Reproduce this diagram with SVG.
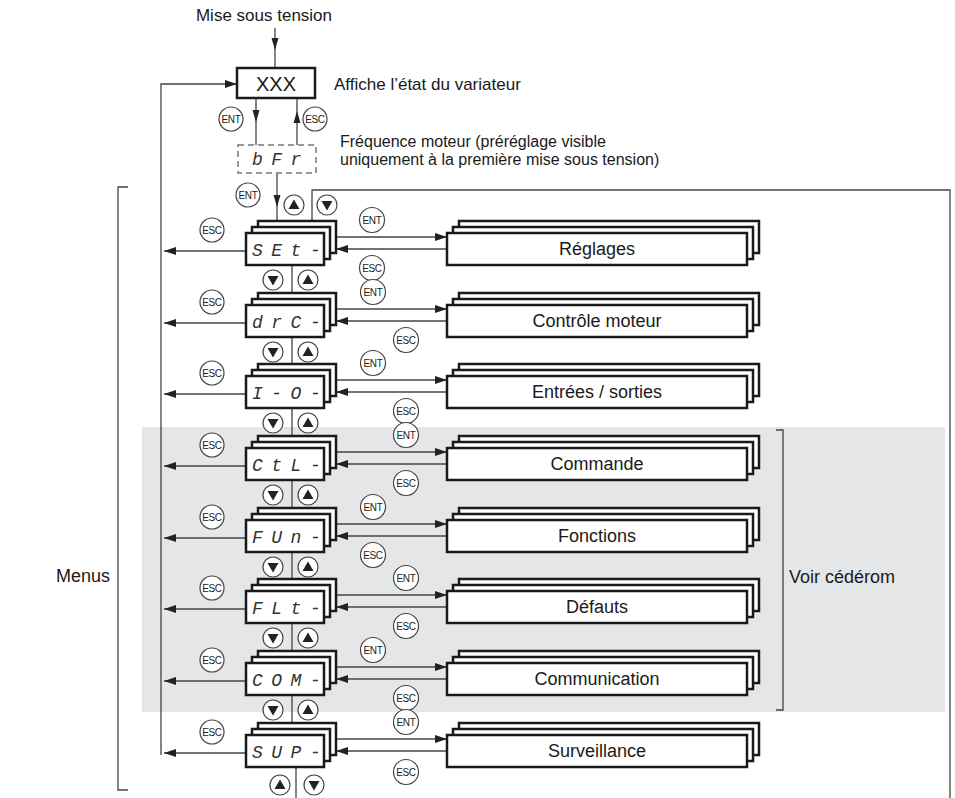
<svg xmlns="http://www.w3.org/2000/svg" xmlns:xlink="http://www.w3.org/1999/xlink" width="955" height="798" viewBox="0 0 955 798">
<style>
.t{font-family:"Liberation Sans",Arial,sans-serif;fill:#1a1a1a}
.lbl{font-size:18px;text-anchor:middle}
.ann{font-size:16px}
.box{fill:#fff;stroke:#1a1a1a;stroke-width:2.5}
.ln{fill:none;stroke:#444;stroke-width:1.3}
.cir{fill:#fff;stroke:#444;stroke-width:1.2}
.ct{font-family:"Liberation Sans",Arial,sans-serif;font-size:10px;letter-spacing:-0.4px;text-anchor:middle;fill:#222}
.seg{font-family:"Liberation Mono","Courier New",monospace;font-style:italic;font-size:18px;letter-spacing:8.5px;fill:#333}
.tri{fill:#222}
</style>
<defs>
<marker id="ah" viewBox="0 0 12 8" refX="12" refY="4" markerWidth="12" markerHeight="8" markerUnits="userSpaceOnUse" orient="auto"><path d="M0,0 L12,4 L0,8 z" fill="#222"/></marker>
<g id="up"><circle r="10" class="cir" stroke-width="1.4"/><path d="M0,-5.5 L5.5,4 L-5.5,4 z" class="tri"/></g>
<g id="dn"><circle r="10" class="cir" stroke-width="1.4"/><path d="M0,5.5 L5.5,-4 L-5.5,-4 z" class="tri"/></g>
</defs>
<rect id="zone-cd" x="142" y="427" width="803" height="285" fill="#e5e6e8"/>

<text class="t" x="264" y="21" font-size="17" text-anchor="middle">Mise sous tension</text>
<text class="t" x="334" y="90" font-size="17">Affiche l’état du variateur</text>
<text class="t ann" x="340" y="147">Fréquence moteur (préréglage visible</text>
<text class="t ann" x="340" y="165">uniquement à la première mise sous tension)</text>
<text class="t" x="56" y="582" font-size="18">Menus</text>
<text class="t" x="789" y="583" font-size="18">Voir cédérom</text>
<path class="ln" d="M128,187 H118 V790 H128" stroke="#666"/>
<path class="ln" d="M776,430 H783 V710 H776" stroke="#666"/>

<g id="connectors">
<line class="ln" x1="275" y1="28" x2="275" y2="67"/><path d="M271.5,38 L278.5,38 L275,50 z" class="tri"/>
<line class="ln" x1="256" y1="99" x2="256" y2="145"/><path d="M252.5,110 L259.5,110 L256,122 z" class="tri"/>
<line class="ln" x1="297" y1="145" x2="297" y2="99"/><path d="M293.5,123 L300.5,123 L297,111 z" class="tri"/>
<line class="ln" x1="277" y1="173" x2="277" y2="221"/><path d="M273.5,195 L280.5,195 L277,207 z" class="tri"/>
<path class="ln" d="M161,755 V84 H237" marker-end="url(#ah)"/>
<path class="ln" d="M312,221 V190 H950 V798" stroke="#666" stroke-width="1.6"/>
<path class="ln" d="M296,767 V798"/>
<g transform="translate(0,249)"><path class="ln" d="M336,-12 H447" marker-end="url(#ah)"/><path class="ln" d="M447,0 H336" marker-end="url(#ah)"/><path class="ln" d="M246,2 H164" marker-end="url(#ah)"/><path class="ln" d="M292,17 V44"/></g>
<g transform="translate(0,321)"><path class="ln" d="M336,-12 H447" marker-end="url(#ah)"/><path class="ln" d="M447,0 H336" marker-end="url(#ah)"/><path class="ln" d="M246,2 H164" marker-end="url(#ah)"/><path class="ln" d="M292,17 V43"/></g>
<g transform="translate(0,392)"><path class="ln" d="M336,-12 H447" marker-end="url(#ah)"/><path class="ln" d="M447,0 H336" marker-end="url(#ah)"/><path class="ln" d="M246,2 H164" marker-end="url(#ah)"/><path class="ln" d="M292,17 V44"/></g>
<g transform="translate(0,464)"><path class="ln" d="M336,-12 H447" marker-end="url(#ah)"/><path class="ln" d="M447,0 H336" marker-end="url(#ah)"/><path class="ln" d="M246,2 H164" marker-end="url(#ah)"/><path class="ln" d="M292,17 V44"/></g>
<g transform="translate(0,536)"><path class="ln" d="M336,-12 H447" marker-end="url(#ah)"/><path class="ln" d="M447,0 H336" marker-end="url(#ah)"/><path class="ln" d="M246,2 H164" marker-end="url(#ah)"/><path class="ln" d="M292,17 V43"/></g>
<g transform="translate(0,607)"><path class="ln" d="M336,-12 H447" marker-end="url(#ah)"/><path class="ln" d="M447,0 H336" marker-end="url(#ah)"/><path class="ln" d="M246,2 H164" marker-end="url(#ah)"/><path class="ln" d="M292,17 V44"/></g>
<g transform="translate(0,679)"><path class="ln" d="M336,-12 H447" marker-end="url(#ah)"/><path class="ln" d="M447,0 H336" marker-end="url(#ah)"/><path class="ln" d="M246,2 H164" marker-end="url(#ah)"/><path class="ln" d="M292,17 V44"/></g>
<g transform="translate(0,751)"><path class="ln" d="M336,-12 H447" marker-end="url(#ah)"/><path class="ln" d="M447,0 H336" marker-end="url(#ah)"/><path class="ln" d="M246,2 H164" marker-end="url(#ah)"/></g>
</g>

<g id="keys">
<circle class="cir" cx="231" cy="119" r="12"/><text class="ct" x="231" y="122.5">ENT</text>
<circle class="cir" cx="315" cy="119" r="12"/><text class="ct" x="315" y="122.5">ESC</text>
<circle class="cir" cx="248" cy="195" r="12"/><text class="ct" x="248" y="198.5">ENT</text>
<use xlink:href="#up" x="294" y="205"/><use xlink:href="#dn" x="327" y="205"/>
<circle class="cir" cx="212" cy="230" r="12"/><text class="ct" x="212" y="233.5">ESC</text>
<circle class="cir" cx="212" cy="302" r="12"/><text class="ct" x="212" y="305.5">ESC</text>
<circle class="cir" cx="212" cy="373" r="12"/><text class="ct" x="212" y="376.5">ESC</text>
<circle class="cir" cx="212" cy="445" r="12"/><text class="ct" x="212" y="448.5">ESC</text>
<circle class="cir" cx="212" cy="517" r="12"/><text class="ct" x="212" y="520.5">ESC</text>
<circle class="cir" cx="212" cy="588" r="12"/><text class="ct" x="212" y="591.5">ESC</text>
<circle class="cir" cx="212" cy="660" r="12"/><text class="ct" x="212" y="663.5">ESC</text>
<circle class="cir" cx="212" cy="732" r="12"/><text class="ct" x="212" y="735.5">ESC</text>
<circle class="cir" cx="372" cy="220" r="12.5"/><text class="ct" x="372" y="223.5">ENT</text>
<circle class="cir" cx="372" cy="268" r="12.5"/><text class="ct" x="372" y="271.5">ESC</text>
<circle class="cir" cx="373" cy="292" r="12.5"/><text class="ct" x="373" y="295.5">ENT</text>
<circle class="cir" cx="406" cy="340" r="12.5"/><text class="ct" x="406" y="343.5">ESC</text>
<circle class="cir" cx="373" cy="363" r="12.5"/><text class="ct" x="373" y="366.5">ENT</text>
<circle class="cir" cx="406" cy="411" r="12.5"/><text class="ct" x="406" y="414.5">ESC</text>
<circle class="cir" cx="406" cy="435" r="12.5"/><text class="ct" x="406" y="438.5">ENT</text>
<circle class="cir" cx="406" cy="483" r="12.5"/><text class="ct" x="406" y="486.5">ESC</text>
<circle class="cir" cx="373" cy="507" r="12.5"/><text class="ct" x="373" y="510.5">ENT</text>
<circle class="cir" cx="373" cy="555" r="12.5"/><text class="ct" x="373" y="558.5">ESC</text>
<circle class="cir" cx="406" cy="578" r="12.5"/><text class="ct" x="406" y="581.5">ENT</text>
<circle class="cir" cx="406" cy="626" r="12.5"/><text class="ct" x="406" y="629.5">ESC</text>
<circle class="cir" cx="373" cy="650" r="12.5"/><text class="ct" x="373" y="653.5">ENT</text>
<circle class="cir" cx="406" cy="698" r="12.5"/><text class="ct" x="406" y="701.5">ESC</text>
<circle class="cir" cx="406" cy="722" r="12.5"/><text class="ct" x="406" y="725.5">ENT</text>
<circle class="cir" cx="406" cy="772" r="12.5"/><text class="ct" x="406" y="775.5">ESC</text>
<use xlink:href="#dn" x="273" y="280"/><use xlink:href="#up" x="308" y="280"/>
<use xlink:href="#dn" x="273" y="352"/><use xlink:href="#up" x="308" y="352"/>
<use xlink:href="#dn" x="273" y="423"/><use xlink:href="#up" x="308" y="423"/>
<use xlink:href="#dn" x="273" y="495"/><use xlink:href="#up" x="308" y="495"/>
<use xlink:href="#dn" x="273" y="567"/><use xlink:href="#up" x="308" y="567"/>
<use xlink:href="#dn" x="273" y="638"/><use xlink:href="#up" x="308" y="638"/>
<use xlink:href="#dn" x="273" y="710"/><use xlink:href="#up" x="308" y="710"/>
<use xlink:href="#up" x="280" y="785"/><use xlink:href="#dn" x="314" y="785"/>
</g>

<g id="node-xxx"><rect class="box" x="237" y="68" width="78" height="30" stroke-width="3"/><text class="t" x="276" y="90.5" font-size="20" text-anchor="middle">XXX</text></g>
<g id="node-bfr"><rect x="238" y="145" width="78" height="28" fill="#fff" stroke="#777" stroke-width="1.5" stroke-dasharray="6 4"/><text class="seg" x="252" y="165" fill="#555" letter-spacing="10">bFr</text></g>

<g id="menu-set" transform="translate(0,249)"><rect class="box" x="258" y="-28" width="78" height="32"/><rect class="box" x="252" y="-22" width="78" height="32"/><rect class="box" x="246" y="-16" width="78" height="32"/><text class="seg" x="252" y="7">SEt-</text></g>
<g id="menu-drc" transform="translate(0,321)"><rect class="box" x="258" y="-28" width="78" height="32"/><rect class="box" x="252" y="-22" width="78" height="32"/><rect class="box" x="246" y="-16" width="78" height="32"/><text class="seg" x="252" y="7">drC-</text></g>
<g id="menu-io" transform="translate(0,392)"><rect class="box" x="258" y="-28" width="78" height="32"/><rect class="box" x="252" y="-22" width="78" height="32"/><rect class="box" x="246" y="-16" width="78" height="32"/><text class="seg" x="252" y="7">I-O-</text></g>
<g id="menu-ctl" transform="translate(0,464)"><rect class="box" x="258" y="-28" width="78" height="32"/><rect class="box" x="252" y="-22" width="78" height="32"/><rect class="box" x="246" y="-16" width="78" height="32"/><text class="seg" x="252" y="7">CtL-</text></g>
<g id="menu-fun" transform="translate(0,536)"><rect class="box" x="258" y="-28" width="78" height="32"/><rect class="box" x="252" y="-22" width="78" height="32"/><rect class="box" x="246" y="-16" width="78" height="32"/><text class="seg" x="252" y="7">FUn-</text></g>
<g id="menu-flt" transform="translate(0,607)"><rect class="box" x="258" y="-28" width="78" height="32"/><rect class="box" x="252" y="-22" width="78" height="32"/><rect class="box" x="246" y="-16" width="78" height="32"/><text class="seg" x="252" y="7">FLt-</text></g>
<g id="menu-com" transform="translate(0,679)"><rect class="box" x="258" y="-28" width="78" height="32"/><rect class="box" x="252" y="-22" width="78" height="32"/><rect class="box" x="246" y="-16" width="78" height="32"/><text class="seg" x="252" y="7">COM-</text></g>
<g id="menu-sup" transform="translate(0,751)"><rect class="box" x="258" y="-28" width="78" height="32"/><rect class="box" x="252" y="-22" width="78" height="32"/><rect class="box" x="246" y="-16" width="78" height="32"/><text class="seg" x="252" y="7">SUP-</text></g>

<g id="sub-reglages" transform="translate(0,249)"><rect class="box" x="459" y="-28" width="300" height="32"/><rect class="box" x="453" y="-22" width="300" height="32"/><rect class="box" x="447" y="-16" width="300" height="32"/><text class="t lbl" x="597" y="6">Réglages</text></g>
<g id="sub-controle" transform="translate(0,321)"><rect class="box" x="459" y="-28" width="300" height="32"/><rect class="box" x="453" y="-22" width="300" height="32"/><rect class="box" x="447" y="-16" width="300" height="32"/><text class="t lbl" x="597" y="6">Contrôle moteur</text></g>
<g id="sub-es" transform="translate(0,392)"><rect class="box" x="459" y="-28" width="300" height="32"/><rect class="box" x="453" y="-22" width="300" height="32"/><rect class="box" x="447" y="-16" width="300" height="32"/><text class="t lbl" x="597" y="6">Entrées / sorties</text></g>
<g id="sub-commande" transform="translate(0,464)"><rect class="box" x="459" y="-28" width="300" height="32"/><rect class="box" x="453" y="-22" width="300" height="32"/><rect class="box" x="447" y="-16" width="300" height="32"/><text class="t lbl" x="597" y="6">Commande</text></g>
<g id="sub-fonctions" transform="translate(0,536)"><rect class="box" x="459" y="-28" width="300" height="32"/><rect class="box" x="453" y="-22" width="300" height="32"/><rect class="box" x="447" y="-16" width="300" height="32"/><text class="t lbl" x="597" y="6">Fonctions</text></g>
<g id="sub-defauts" transform="translate(0,607)"><rect class="box" x="459" y="-28" width="300" height="32"/><rect class="box" x="453" y="-22" width="300" height="32"/><rect class="box" x="447" y="-16" width="300" height="32"/><text class="t lbl" x="597" y="6">Défauts</text></g>
<g id="sub-communication" transform="translate(0,679)"><rect class="box" x="459" y="-28" width="300" height="32"/><rect class="box" x="453" y="-22" width="300" height="32"/><rect class="box" x="447" y="-16" width="300" height="32"/><text class="t lbl" x="597" y="6">Communication</text></g>
<g id="sub-surveillance" transform="translate(0,751)"><rect class="box" x="459" y="-28" width="300" height="32"/><rect class="box" x="453" y="-22" width="300" height="32"/><rect class="box" x="447" y="-16" width="300" height="32"/><text class="t lbl" x="597" y="6">Surveillance</text></g>
</svg>
